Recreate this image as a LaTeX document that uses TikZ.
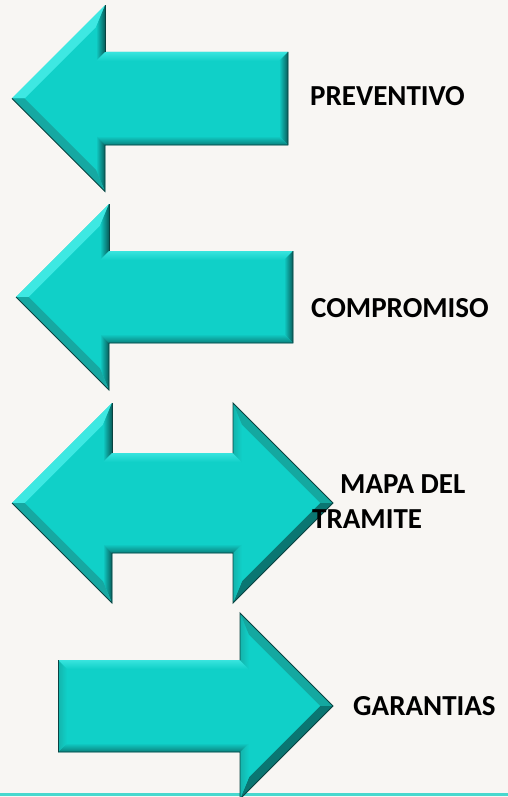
\documentclass[tikz,border=0pt]{standalone}
\usepackage{fontspec}
\setmainfont{Carlito}
\definecolor{bgpaper}{RGB}{248,246,243}
\definecolor{arrface}{RGB}{16,208,200}
\definecolor{bevbright}{RGB}{62,232,226}
\definecolor{bevlight}{RGB}{56,228,222}
\definecolor{bevmid}{RGB}{22,168,162}
\definecolor{bevleft}{RGB}{20,180,172}
\definecolor{bevdark}{RGB}{8,92,90}
\definecolor{bevdown}{RGB}{10,128,124}
\definecolor{bevdiagR}{RGB}{20,168,160}
\definecolor{bevdiagRD}{RGB}{10,118,114}
\definecolor{edgedark}{RGB}{10,66,64}
\definecolor{basecyan}{RGB}{72,216,206}
\def\bD{9}
\def\bR{12.73}
\def\bQ{21.73}
\tikzset{
  lbl/.style={anchor=base west, inner sep=0pt, font=\fontsize{29}{35}\selectfont\bfseries, text=black},
  darkedge/.style={draw=edgedark, line width=0.9pt, line join=miter},
}
% left-pointing arrow: tip x, centre y, head half-height, shaft half-height, shaft right x
\newcommand\LArrow[5]{%
  \coordinate (T) at (#1,#2);
  \coordinate (A) at ({#1+#3},{#2-#3});
  \coordinate (B) at ({#1+#3},{#2-#4});
  \coordinate (C) at (#5,{#2-#4});
  \coordinate (D) at (#5,{#2+#4});
  \coordinate (E) at ({#1+#3},{#2+#4});
  \coordinate (F) at ({#1+#3},{#2+#3});
  \coordinate (Ti) at ({#1+\bR},#2);
  \coordinate (Ai) at ({#1+#3-\bD},{#2-#3+\bQ});
  \coordinate (Bi) at ({#1+#3-\bD},{#2-#4+\bD});
  \coordinate (Ci) at ({#5-\bD},{#2-#4+\bD});
  \coordinate (Di) at ({#5-\bD},{#2+#4-\bD});
  \coordinate (Ei) at ({#1+#3-\bD},{#2+#4-\bD});
  \coordinate (Fi) at ({#1+#3-\bD},{#2+#3-\bQ});
  \fill[arrface] (T)--(A)--(B)--(C)--(D)--(E)--(F)--cycle;
  \fill[bevbright] (T)--(A)--(Ai)--(Ti)--cycle;
  \shade[left color=arrface, right color=bevdark] (A)--(B)--(Bi)--(Ai)--cycle;
  \shade[top color=bevlight, bottom color=arrface] (B)--(C)--(Ci)--(Bi)--cycle;
  \shade[left color=arrface, right color=bevdark] (C)--(D)--(Di)--(Ci)--cycle;
  \shade[top color=arrface, bottom color=bevdown] (D)--(E)--(Ei)--(Di)--cycle;
  \shade[left color=arrface, right color=bevdark] (E)--(F)--(Fi)--(Ei)--cycle;
  \fill[bevmid] (F)--(T)--(Ti)--(Fi)--cycle;
  \draw[darkedge] (A)--(B);
  \draw[darkedge] (C)--(D)--(E)--(F)--(T);
}
% right-pointing arrow: shaft left x, centre y, head half-height, shaft half-height, head back x
\newcommand\RArrow[5]{%
  \coordinate (L) at (#1,{#2-#4});
  \coordinate (B) at (#5,{#2-#4});
  \coordinate (A) at (#5,{#2-#3});
  \coordinate (T) at ({#5+#3},#2);
  \coordinate (F) at (#5,{#2+#3});
  \coordinate (E) at (#5,{#2+#4});
  \coordinate (M) at (#1,{#2+#4});
  \coordinate (Li) at ({#1+\bD},{#2-#4+\bD});
  \coordinate (Bi) at ({#5+\bD},{#2-#4+\bD});
  \coordinate (Ai) at ({#5+\bD},{#2-#3+\bQ});
  \coordinate (Ti) at ({#5+#3-\bR},#2);
  \coordinate (Fi) at ({#5+\bD},{#2+#3-\bQ});
  \coordinate (Ei) at ({#5+\bD},{#2+#4-\bD});
  \coordinate (Mi) at ({#1+\bD},{#2+#4-\bD});
  \fill[arrface] (L)--(B)--(A)--(T)--(F)--(E)--(M)--cycle;
  \shade[top color=bevlight, bottom color=arrface] (L)--(B)--(Bi)--(Li)--cycle;
  \shade[left color=bevleft, right color=arrface] (B)--(A)--(Ai)--(Bi)--cycle;
  \fill[bevdiagR] (A)--(T)--(Ti)--(Ai)--cycle;
  \fill[bevdiagRD] (T)--(F)--(Fi)--(Ti)--cycle;
  \shade[left color=bevleft, right color=arrface] (F)--(E)--(Ei)--(Fi)--cycle;
  \shade[top color=arrface, bottom color=bevdown] (E)--(M)--(Mi)--(Ei)--cycle;
  \shade[left color=bevleft, right color=arrface] (M)--(L)--(Li)--(Mi)--cycle;
  \draw[darkedge] (M)--(L);
  \draw[darkedge] (B)--(A)--(T)--(F)--(E)--(M);
}
% double arrow: left tip x, centre y, head half-height, shaft half-height, right head back x
\newcommand\DArrow[5]{%
  \coordinate (T) at (#1,#2);
  \coordinate (A) at ({#1+#3},{#2-#3});
  \coordinate (B) at ({#1+#3},{#2-#4});
  \coordinate (G) at (#5,{#2-#4});
  \coordinate (H) at (#5,{#2-#3});
  \coordinate (R) at ({#5+#3},#2);
  \coordinate (I) at (#5,{#2+#3});
  \coordinate (J) at (#5,{#2+#4});
  \coordinate (E) at ({#1+#3},{#2+#4});
  \coordinate (F) at ({#1+#3},{#2+#3});
  \coordinate (Ti) at ({#1+\bR},#2);
  \coordinate (Ai) at ({#1+#3-\bD},{#2-#3+\bQ});
  \coordinate (Bi) at ({#1+#3-\bD},{#2-#4+\bD});
  \coordinate (Gi) at ({#5+\bD},{#2-#4+\bD});
  \coordinate (Hi) at ({#5+\bD},{#2-#3+\bQ});
  \coordinate (Ri) at ({#5+#3-\bR},#2);
  \coordinate (Ii) at ({#5+\bD},{#2+#3-\bQ});
  \coordinate (Ji) at ({#5+\bD},{#2+#4-\bD});
  \coordinate (Ei) at ({#1+#3-\bD},{#2+#4-\bD});
  \coordinate (Fi) at ({#1+#3-\bD},{#2+#3-\bQ});
  \fill[arrface] (T)--(A)--(B)--(G)--(H)--(R)--(I)--(J)--(E)--(F)--cycle;
  \fill[bevbright] (T)--(A)--(Ai)--(Ti)--cycle;
  \shade[left color=arrface, right color=bevdark] (A)--(B)--(Bi)--(Ai)--cycle;
  \shade[top color=bevlight, bottom color=arrface] (B)--(G)--(Gi)--(Bi)--cycle;
  \shade[left color=bevleft, right color=arrface] (G)--(H)--(Hi)--(Gi)--cycle;
  \fill[bevdiagR] (H)--(R)--(Ri)--(Hi)--cycle;
  \fill[bevdiagRD] (R)--(I)--(Ii)--(Ri)--cycle;
  \shade[left color=bevleft, right color=arrface] (I)--(J)--(Ji)--(Ii)--cycle;
  \shade[top color=arrface, bottom color=bevdown] (J)--(E)--(Ei)--(Ji)--cycle;
  \shade[left color=arrface, right color=bevdark] (E)--(F)--(Fi)--(Ei)--cycle;
  \fill[bevmid] (F)--(T)--(Ti)--(Fi)--cycle;
  \draw[darkedge] (A)--(B);
  \draw[darkedge] (G)--(H)--(R)--(I)--(J)--(E)--(F)--(T);
}
\begin{document}
\begin{tikzpicture}[x=1pt,y=-1pt]
  \fill[bgpaper] (0,0) rectangle (508,797);
  \useasboundingbox (0,0) rectangle (508,797);
  \draw[draw=basecyan, line width=3pt] (0,794.5) -- (508,794.5);
  \begin{scope}
    \clip (0,0) rectangle (508,797);
    \LArrow{12}{98.5}{93}{46.5}{288}
    \LArrow{16}{297}{93}{46}{293}
    \DArrow{12}{503}{100}{50}{233}
    \RArrow{58}{706}{93}{46}{240}
  \end{scope}
  \node[lbl] (prev) at (310,106) {PREVENTIVO};
  \node[lbl] (comp) at (311,317) {COMPROMISO};
  \node[lbl] (mapa) at (340,493) {MAPA DEL};
  \node[lbl] (tram) at (312,528) {TRAMITE};
  \node[lbl] (gar) at (353,715) {GARANTIAS};
\end{tikzpicture}
\end{document}
